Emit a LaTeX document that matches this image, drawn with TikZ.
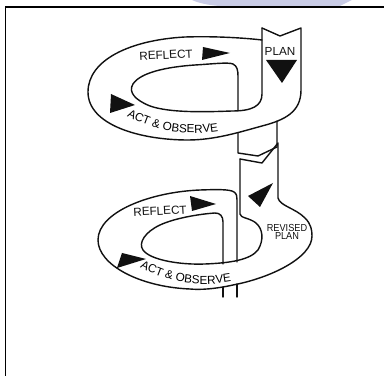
\documentclass[tikz,border=0pt]{standalone}
\usepackage{fontspec}
\newfontfamily\labelfont{Liberation Sans}
\newfontfamily\narrowfont[FakeStretch=0.9]{Liberation Sans}
\newcommand{\pathfont}{\labelfont\fontsize{10}{12}\selectfont}
\usetikzlibrary{decorations.text}
\definecolor{inkA}{HTML}{111111}
\definecolor{markA}{HTML}{C9CCE6}
\tikzset{
  ribbon/.style={draw=inkA, line width=1.2pt, line join=round, line cap=round},
  pointer/.style={fill=inkA},
  tag/.style={font=\pathfont, inner sep=0pt, text=inkA},
  revtag/.style={font=\narrowfont\fontsize{8.7}{7.4}\selectfont, align=center, inner sep=0pt, text=inkA},
  pathtext/.style={decorate, decoration={text along path, text={|\pathfont|#1}, text align=left}},
  frame/.style={draw=black, line width=1.4pt}
}

\begin{document}
\begin{tikzpicture}[x=0.03cm, y=-0.03cm]
  \useasboundingbox (0,0) rectangle (384,376);
  \fill[markA] (192,0) .. controls (205,6) and (225,7) .. (250,7) -- (338,7) -- (352,0) -- cycle;
  \draw[frame] (5.5,376) -- (5.5,7) -- (384,7);

  % upper turn of the spiral
  \draw[ribbon] (262,28) -- (280,36) -- (301,28) -- (301,90)
    .. controls (301,112) and (285,120) .. (262,126)
    .. controls (240,132) and (215,140) .. (188,140)
    .. controls (140,140) and (88,125) .. (88,92)
    .. controls (88,60) and (130,40) .. (185,37)
    .. controls (215,36) and (245,38) .. (262,40);
  \draw[ribbon] (262,28) -- (262,94)
    .. controls (262,106) and (252,111) .. (232,111)
    .. controls (205,112) and (170,113) .. (150,106)
    .. controls (135,100) and (128,92) .. (133,84)
    .. controls (140,73) and (165,67) .. (195,65)
    .. controls (212,64) and (228,62) .. (233,64)
    .. controls (237,66) and (238,70) .. (238,76) -- (238,111);
  \draw[ribbon] (238,132.6) -- (238,153) -- (258,156) -- (277,147) -- (277,121);

  % lower turn of the spiral
  \draw[ribbon] (240,159) -- (262,163) -- (278,143) -- (278,198)
    .. controls (280,206) and (295,208) .. (305,218)
    .. controls (311,224) and (312,230) .. (312,236)
    .. controls (312,258) and (270,278) .. (233,285)
    .. controls (215,289) and (200,290) .. (190,289)
    .. controls (140,287) and (98,265) .. (98,240)
    .. controls (98,212) and (150,192) .. (200,190)
    .. controls (215,189.5) and (230,189) .. (234,192)
    .. controls (237,194) and (237,197) .. (237,200) -- (237,262);
  \draw[ribbon] (240,159) -- (240,214)
    .. controls (240,218) and (250,218) .. (256,223)
    .. controls (263,229) and (264,240) .. (258,250)
    .. controls (250,260) and (230,263) .. (205,264)
    .. controls (180,265) and (150,260) .. (143,250)
    .. controls (138,243) and (145,232) .. (160,225)
    .. controls (175,218) and (200,214) .. (215,213)
    .. controls (220,213) and (223,216) .. (223,222) -- (223,264);
  \draw[ribbon] (223,287) -- (223,297);
  \draw[ribbon] (237,284) -- (237,297);

  % arrow heads
  \fill[pointer] (203,47) -- (230,53) -- (202,60) -- cycle;
  \fill[pointer] (266,60) -- (297,60) -- (282,83) -- cycle;
  \fill[pointer] (111,94) -- (135,105) -- (110,113) -- cycle;
  \fill[pointer] (190,196) -- (216,204) -- (192,211) -- cycle;
  \fill[pointer] (248,196) -- (273,183) -- (260,207) -- cycle;
  \fill[pointer] (122,253) -- (146,259) -- (117,268) -- cycle;

  % labels
  \node[tag, rotate=3] (reflectA) at (166,55) {REFLECT};
  \node[tag] (planA) at (280,51) {PLAN};
  \node[tag, rotate=3] (reflectB) at (160,211) {REFLECT};
  \node[revtag] (revplan) at (287,232) {REVISED\\PLAN};
  \path[pathtext={ACT {\&} OBSERVE}] (127,116)
    .. controls (150,128) and (170,133) .. (193,133)
    .. controls (210,133) and (224,131) .. (240,126);
  \path[pathtext={ACT {\&} OBSERVE}] (140,267)
    .. controls (162,279) and (182,284) .. (203,284)
    .. controls (220,284) and (234,282) .. (250,277);
\end{tikzpicture}
\end{document}
